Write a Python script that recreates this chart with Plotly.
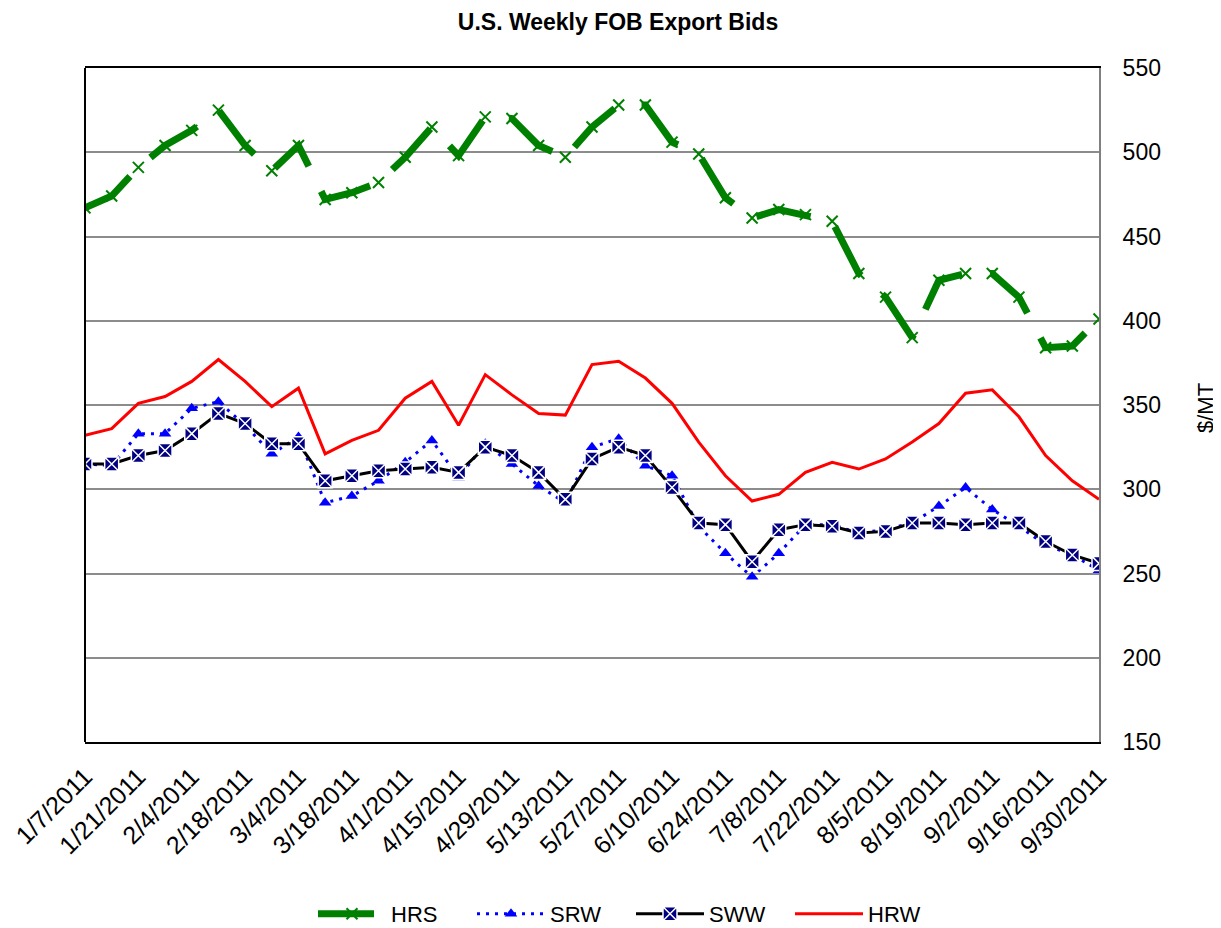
import plotly.graph_objects as go

dates = ["1/7/2011", "1/14/2011", "1/21/2011", "1/28/2011", "2/4/2011", "2/11/2011",
         "2/18/2011", "2/25/2011", "3/4/2011", "3/11/2011", "3/18/2011", "3/25/2011",
         "4/1/2011", "4/8/2011", "4/15/2011", "4/22/2011", "4/29/2011", "5/6/2011",
         "5/13/2011", "5/20/2011", "5/27/2011", "6/3/2011", "6/10/2011", "6/17/2011",
         "6/24/2011", "7/1/2011", "7/8/2011", "7/15/2011", "7/22/2011", "7/29/2011",
         "8/5/2011", "8/12/2011", "8/19/2011", "8/26/2011", "9/2/2011", "9/9/2011",
         "9/16/2011", "9/23/2011", "9/30/2011"]

hrs = [467, 474, 491, 504, 513, 525, 504, 489, 504, 472, 476, 482, 497, 515, 498, 521,
       520, 504, 497, 515, 528, 528, 506, 499, 473, 461, 466, 463, 459, 428, 414, 390,
       424, 428, 428, 414, 384, 385, 401]
srw = [315, 314, 333, 333, 348, 352, 338, 321, 331, 292, 296, 305, 316, 329, 307, 327,
       315, 302, 292, 325, 330, 314, 308, 278, 262, 248, 262, 279, 279, 274, 276, 280,
       290, 301, 288, 278, 267, 261, 252]
sww = [315, 315, 320, 323, 333, 345, 339, 327, 327, 305, 308, 311, 312, 313, 310, 325,
       320, 310, 294, 318, 325, 320, 301, 280, 279, 257, 276, 279, 278, 274, 275, 280,
       280, 279, 280, 280, 269, 261, 256]
hrw = [332, 336, 351, 355, 364, 377, 364, 349, 360, 321, 329, 335, 354, 364, 338, 368,
       356, 345, 344, 374, 376, 366, 351, 328, 308, 293, 297, 310, 316, 312, 318, 328,
       339, 357, 359, 343, 320, 305, 294]

tick_labels = dates[::2]
y_ticks = [150, 200, 250, 300, 350, 400, 450, 500, 550]

FONT = "Liberation Sans, Arial, sans-serif"

# page body has an 8px margin; figure coordinates are page coordinates minus 8
W, H = 1213, 920
OFF = 8

fig = go.Figure()
fig.add_trace(go.Scatter(
    x=dates, y=hrs, name="HRS", mode="lines+markers",
    line=dict(color="#008000", width=7, dash="56px,28px"),
    marker=dict(symbol="x-thin-open", size=11, color="#008000",
                line=dict(color="#008000", width=2)),
))
fig.add_trace(go.Scatter(
    x=dates, y=srw, name="SRW", mode="lines+markers",
    line=dict(color="#0000ff", width=3, dash="3px,6px"),
    marker=dict(symbol="triangle-up", size=11, color="#0000ff"),
))
fig.add_trace(go.Scatter(
    x=dates, y=sww, name="SWW", mode="lines+markers",
    line=dict(color="#000000", width=3),
    marker=dict(symbol="square-x", size=14, color="#000080",
                line=dict(color="#ffffff", width=1.5)),
))
fig.add_trace(go.Scatter(
    x=dates, y=hrw, name="HRW", mode="lines",
    line=dict(color="#ff0000", width=3),
))

left, right, top, bottom = 85 - OFF, 1099 - OFF, 67.5 - OFF, 742.5 - OFF

fig.update_layout(
    width=W, height=H,
    paper_bgcolor="white", plot_bgcolor="white",
    margin=dict(l=left, r=W - right, t=top, b=H - bottom, autoexpand=False),
    font=dict(family=FONT, size=22, color="black"),
    title=dict(text="<b>U.S. Weekly FOB Export Bids</b>", font=dict(size=23, family=FONT),
               x=(618 - OFF) / W, xref="container", xanchor="center",
               y=1 - (22 - OFF) / H, yref="container", yanchor="middle"),
    showlegend=True,
    legend=dict(orientation="h", xref="container", yref="container",
                x=(313 - OFF) / W, xanchor="left", y=1 - (914 - OFF) / H, yanchor="middle",
                font=dict(size=22, family=FONT), itemwidth=68, entrywidth=76,
                traceorder="normal"),
    xaxis=dict(
        type="category", range=[0, 38],
        tickmode="array", tickvals=tick_labels, ticktext=tick_labels,
        tickangle=-45, ticks="", showgrid=False,
        showline=True, linecolor="black", linewidth=2, mirror=True,
        tickfont=dict(size=25, family=FONT), ticklabelstandoff=8,
    ),
    yaxis=dict(
        side="right", range=[150, 550], tickvals=y_ticks,
        showgrid=True, gridcolor="#8c8c8c", gridwidth=2,
        showline=True, linecolor="#808080", linewidth=2,
        ticks="", tickfont=dict(size=23, family=FONT), ticklabelstandoff=17,
        zeroline=False,
    ),
    shapes=[dict(type="line", xref="paper", yref="paper", x0=0, x1=0, y0=0, y1=1,
                 line=dict(color="black", width=2))],
    annotations=[dict(text="$/MT", xref="paper", yref="paper",
                      x=(1206 - 85) / (1099 - 85), y=(742.5 - 408) / (742.5 - 67.5),
                      showarrow=False, textangle=-90, font=dict(size=22, family=FONT),
                      xanchor="center", yanchor="middle")],
)

fig.write_html("out.html")
